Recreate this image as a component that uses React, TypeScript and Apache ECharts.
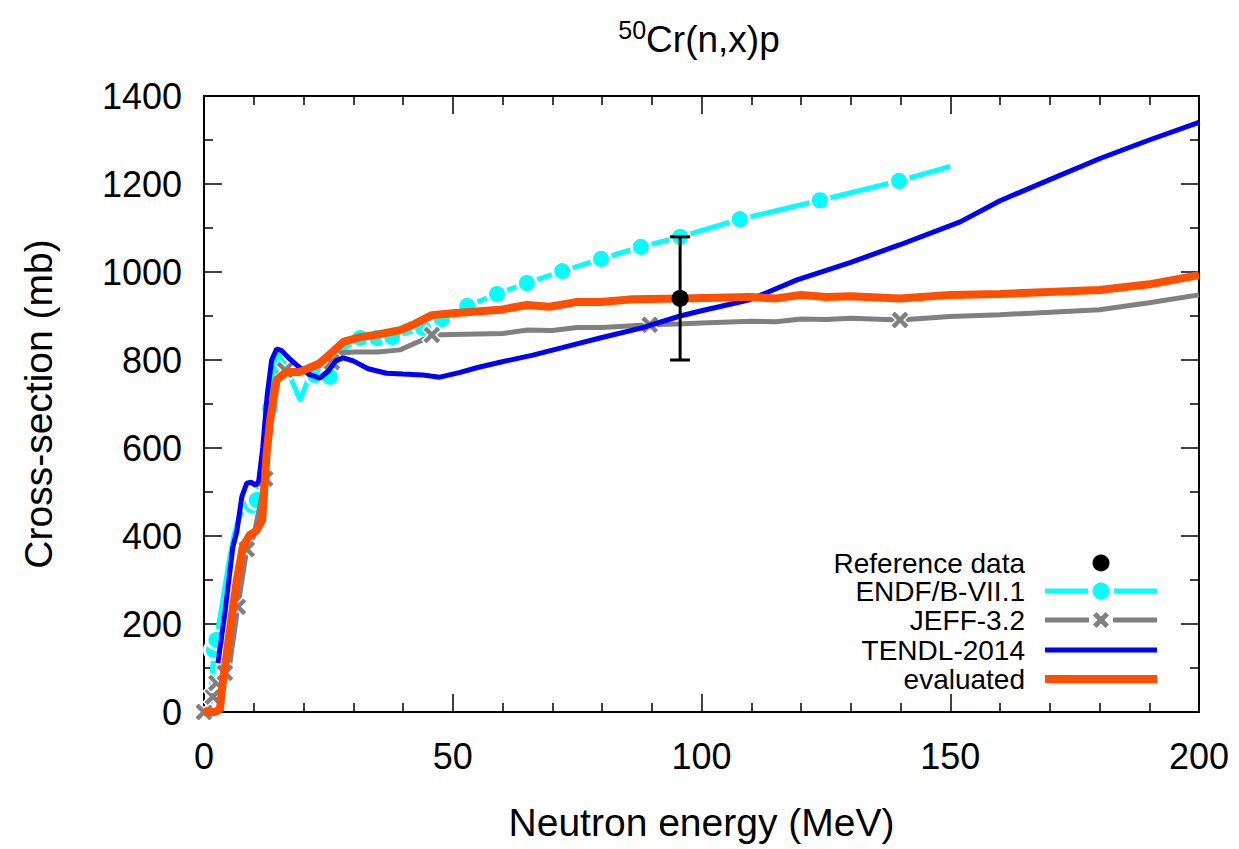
import React, { useEffect, useRef } from "react";
import * as echarts from "echarts";

const FONT = '"Liberation Sans", Arial, Helvetica, sans-serif';

// ENDF/B-VII.1
const endfEnergy = [0, 1, 1.5, 2, 2.5, 3, 4, 5, 6, 7, 8, 9.6, 10.6, 11.5, 12.3, 13.3, 14.7, 16.3, 19.3, 21.3, 22.3, 25.3, 28, 31.4, 34.8, 37.8, 44, 47.8, 52.9, 58.9, 64.9, 72, 79.8, 87.8, 95.7, 107.7, 123.8, 139.7, 150];
const endfXs = [0, 10, 60, 141, 164, 200, 270, 340, 400, 440, 462, 470, 482, 540, 620, 691, 815, 789, 709, 766, 766, 762, 825, 850, 850, 852, 873, 893, 923, 950, 975, 1002, 1030, 1057, 1080, 1120, 1163, 1207, 1240];
const endfMarkerEnergies = [2, 2.5, 9.6, 10.6, 13.3, 22.3, 25.3, 31.4, 34.8, 37.8, 44, 47.8, 52.9, 58.9, 64.9, 72, 79.8, 87.8, 95.7, 107.7, 123.8, 139.7];

// JEFF-3.2
const jeffEnergy = [0, 0.6, 1.8, 2.5, 4.2, 5.2, 6.8, 8.6, 10, 12.3, 13, 14, 15, 16.3, 18, 20, 22, 25.7, 27.5, 30, 35, 39.4, 44.8, 45.8, 50, 55, 60, 65, 70, 75, 80, 89.6, 95, 100, 110, 115, 120, 125, 130, 139.9, 150, 160, 180, 190, 200];
const jeffXs = [0, 8, 35, 66, 89, 111, 239, 370, 400, 530, 640, 740, 770, 777, 772, 775, 782, 795, 816, 818, 818, 823, 850, 857, 858, 859, 860, 868, 867, 874, 874, 880, 882, 884, 888, 887, 893, 892, 895, 891, 899, 903, 914, 930, 948];
const jeffMarkerEnergies = [0, 1.8, 2.5, 4.2, 6.8, 8.6, 12.3, 16.3, 25.7, 45.8, 89.6, 139.9];

// TENDL-2014
const tendlEnergy = [2.8, 4.2, 5.8, 6.6, 7.6, 8.6, 9.5, 10.4, 11, 11.8, 12.7, 13.6, 14.6, 15.5, 17, 19, 21, 23.3, 25, 26.5, 28, 30, 33, 36.7, 40, 44, 47.4, 51.5, 55, 59.5, 66.1, 72, 79.6, 88, 95.7, 100, 109.7, 119.2, 130, 139.9, 152, 160, 170, 180.1, 190, 200];
const tendlXs = [111, 225, 375, 410, 489, 520, 522, 515, 525, 600, 720, 800, 825, 822, 805, 785, 768, 759, 775, 798, 805, 798, 780, 770, 768, 766, 761, 772, 783, 795, 811, 828, 850, 873, 900, 912, 937, 982, 1022, 1062, 1114, 1162, 1210, 1258, 1300, 1340];

// evaluated
const evalEnergy = [0, 2, 3.2, 3.6, 5.2, 6.6, 7.8, 9.2, 10.5, 11.7, 12.6, 13.3, 14.6, 16.7, 19.3, 23.3, 26, 28, 31.4, 35, 39.4, 42, 45.8, 50, 59.5, 64.9, 69.5, 75, 79.6, 86.2, 95.7, 109.7, 115, 120, 125, 130, 139.9, 150, 160, 180, 190, 200];
const evalXs = [0, 0, 5, 50, 186, 300, 375, 402, 412, 436, 589, 664, 755, 773, 773, 793, 820, 841, 852, 858, 868, 880, 902, 906, 914, 925, 921, 932, 932, 938, 940, 943, 940, 948, 943, 945, 940, 948, 950, 959, 972, 993];

// Reference data
const refEnergy = [95.7];
const refXs = [940];
const refLow = [800];
const refHigh = [1080];

const legendNames = ["Reference data", "ENDF/B-VII.1", "JEFF-3.2", "TENDL-2014", "evaluated"];

const xTicks = { min: 0, max: 200, interval: 50 };
const yTicks = { min: 0, max: 1400, interval: 200 };

const CYAN = "#00ffff";
const GRAY = "#808080";
const BLUE = "#0000ff";
const ORANGE = "#ff4f00";

const CROSS_PTS: number[][] = [[0, 2.2], [2.2, 0], [5, 2.8], [7.8, 0], [10, 2.2], [7.2, 5], [10, 7.8], [7.8, 10], [5, 7.2], [2.2, 10], [0, 7.8], [2.8, 5]];
const CROSS = "path://M" + CROSS_PTS.map((p) => p.join(",")).join(" L") + " Z";

function withMarkers(xs: number[], ys: number[], marks: number[], sym: string) {
  return xs.map((x, i) => ({ value: [x, ys[i]], symbol: marks.includes(x) ? sym : "none" }));
}

function legendGraphics() {
  const textX = 1025;
  const x1 = 1045;
  const x2 = 1157;
  const mid = 1101;
  const rows = [563, 591, 620, 650, 679];
  const els: any[] = [];
  legendNames.forEach((name, i) => {
    const y = rows[i];
    els.push({
      type: "text",
      x: textX,
      y,
      style: { text: name, font: `28px ${FONT}`, fill: "#000", align: "right", textAlign: "right", verticalAlign: "middle", textVerticalAlign: "middle" },
    });
  });
  els.push({ type: "circle", shape: { cx: mid, cy: rows[0], r: 8.5 }, style: { fill: "#000" } });
  els.push({ type: "line", shape: { x1, y1: rows[1], x2: mid - 13, y2: rows[1] }, style: { stroke: CYAN, lineWidth: 5 } });
  els.push({ type: "line", shape: { x1: mid + 13, y1: rows[1], x2, y2: rows[1] }, style: { stroke: CYAN, lineWidth: 5 } });
  els.push({ type: "circle", shape: { cx: mid, cy: rows[1], r: 8.5 }, style: { fill: CYAN } });
  els.push({ type: "line", shape: { x1, y1: rows[2], x2: mid - 12, y2: rows[2] }, style: { stroke: GRAY, lineWidth: 5 } });
  els.push({ type: "line", shape: { x1: mid + 12, y1: rows[2], x2, y2: rows[2] }, style: { stroke: GRAY, lineWidth: 5 } });
  els.push({
    type: "polygon",
    shape: { points: CROSS_PTS.map((p) => [mid - 8 + p[0] * 1.6, rows[2] - 8 + p[1] * 1.6]) },
    style: { fill: GRAY },
  });
  els.push({ type: "line", shape: { x1, y1: rows[3], x2, y2: rows[3] }, style: { stroke: BLUE, lineWidth: 5 } });
  els.push({ type: "line", shape: { x1, y1: rows[4], x2, y2: rows[4] }, style: { stroke: ORANGE, lineWidth: 8 } });
  return els;
}

export default function App() {
  const ref = useRef<HTMLDivElement>(null);
  useEffect(() => {
    if (!ref.current) return;
    const chart = echarts.init(ref.current, null, { renderer: "svg" });
    const tickStyle = { color: "#000", width: 1.5 };
    const axisCommon = {
      type: "value",
      axisLine: { show: true, onZero: false, lineStyle: { color: "#000", width: 2 } },
      axisTick: { show: true, inside: true, length: 18, lineStyle: tickStyle },
      splitLine: { show: false },
    };
    const fmt = (v: number) => String(v);
    const option: any = {
      animation: false,
      backgroundColor: "#fff",
      textStyle: { fontFamily: FONT },
      graphic: [
        {
          type: "text",
          x: 699,
          y: 17,
          style: {
            text: "{sup|50}{m|Cr(n,x)p}",
            align: "center",
            textAlign: "center",
            verticalAlign: "top",
            textVerticalAlign: "top",
            rich: {
              sup: { fontSize: 25, fontFamily: FONT, fill: "#000", color: "#000", verticalAlign: "bottom", lineHeight: 25, padding: [0, 0, 16, 0] },
              m: { fontSize: 37, fontFamily: FONT, fill: "#000", color: "#000", verticalAlign: "bottom", lineHeight: 41 },
            },
          },
        },
        ...legendGraphics(),
      ],
      grid: { left: 204, right: 40, top: 96, bottom: 137, containLabel: false },
      xAxis: [
        {
          ...axisCommon,
          ...xTicks,
          position: "bottom",
          minorTick: { show: true, splitNumber: 5, length: 9, lineStyle: tickStyle },
          axisLabel: { fontSize: 36, color: "#000", margin: 26, fontFamily: FONT, formatter: fmt },
          name: "Neutron energy (MeV)",
          nameLocation: "middle",
          nameGap: 91,
          nameTextStyle: { fontSize: 39, color: "#000", fontFamily: FONT },
        },
        {
          ...axisCommon,
          ...xTicks,
          position: "top",
          minorTick: { show: true, splitNumber: 5, length: 9, lineStyle: tickStyle },
          axisLabel: { show: false },
        },
      ],
      yAxis: [
        {
          ...axisCommon,
          ...yTicks,
          position: "left",
          minorTick: { show: true, splitNumber: 2, length: 9, lineStyle: tickStyle },
          axisLabel: { fontSize: 36, color: "#000", margin: 22, fontFamily: FONT, formatter: fmt },
          name: "Cross-section (mb)",
          nameLocation: "middle",
          nameGap: 146,
          nameTextStyle: { fontSize: 39, color: "#000", fontFamily: FONT },
        },
        {
          ...axisCommon,
          ...yTicks,
          position: "right",
          minorTick: { show: true, splitNumber: 2, length: 9, lineStyle: tickStyle },
          axisLabel: { show: false },
        },
      ],
      series: [
        {
          name: "ENDF/B-VII.1",
          type: "line",
          data: withMarkers(endfEnergy, endfXs, endfMarkerEnergies, "circle"),
          symbol: "circle",
          symbolSize: 19,
          showSymbol: true,
          lineStyle: { color: CYAN, width: 5 },
          itemStyle: { color: CYAN, borderColor: "#fff", borderWidth: 3 },
          emphasis: { disabled: true },
          z: 2,
        },
        {
          name: "JEFF-3.2",
          type: "line",
          data: withMarkers(jeffEnergy, jeffXs, jeffMarkerEnergies, CROSS),
          symbol: CROSS,
          symbolSize: 19,
          showSymbol: true,
          lineStyle: { color: GRAY, width: 5 },
          itemStyle: { color: GRAY, borderColor: "#fff", borderWidth: 1.5 },
          emphasis: { disabled: true },
          z: 3,
        },
        {
          name: "TENDL-2014",
          type: "line",
          data: tendlEnergy.map((e, i) => [e, tendlXs[i]]),
          symbol: "none",
          lineStyle: { color: BLUE, width: 5 },
          itemStyle: { color: BLUE },
          emphasis: { disabled: true },
          z: 4,
        },
        {
          name: "evaluated",
          type: "line",
          data: evalEnergy.map((e, i) => [e, evalXs[i]]),
          symbol: "none",
          lineStyle: { color: ORANGE, width: 8 },
          itemStyle: { color: ORANGE },
          emphasis: { disabled: true },
          z: 5,
        },
        {
          name: "Reference data",
          type: "scatter",
          data: refEnergy.map((e, i) => [e, refXs[i]]),
          symbol: "circle",
          symbolSize: 17,
          itemStyle: { color: "#000", opacity: 1 },
          emphasis: { disabled: true },
          z: 7,
        },
        {
          name: "errorbar",
          type: "custom",
          data: refEnergy.map((e, i) => [e, refLow[i], refHigh[i]]),
          encode: { x: 0, y: [1, 2] },
          z: 6,
          renderItem: (params: any, api: any) => {
            const x = api.value(0);
            const lo = api.coord([x, api.value(1)]);
            const hi = api.coord([x, api.value(2)]);
            const cap = 10;
            const st = { stroke: "#000", lineWidth: 3 };
            return {
              type: "group",
              children: [
                { type: "line", shape: { x1: lo[0], y1: lo[1], x2: hi[0], y2: hi[1] }, style: st },
                { type: "line", shape: { x1: lo[0] - cap, y1: lo[1], x2: lo[0] + cap, y2: lo[1] }, style: st },
                { type: "line", shape: { x1: hi[0] - cap, y1: hi[1], x2: hi[0] + cap, y2: hi[1] }, style: st },
              ],
            };
          },
        },
      ],
    };
    chart.setOption(option);
    return () => chart.dispose();
  }, []);
  return <div ref={ref} style={{ position: "absolute", left: 0, top: 0, width: 1239, height: 849 }} />;
}
